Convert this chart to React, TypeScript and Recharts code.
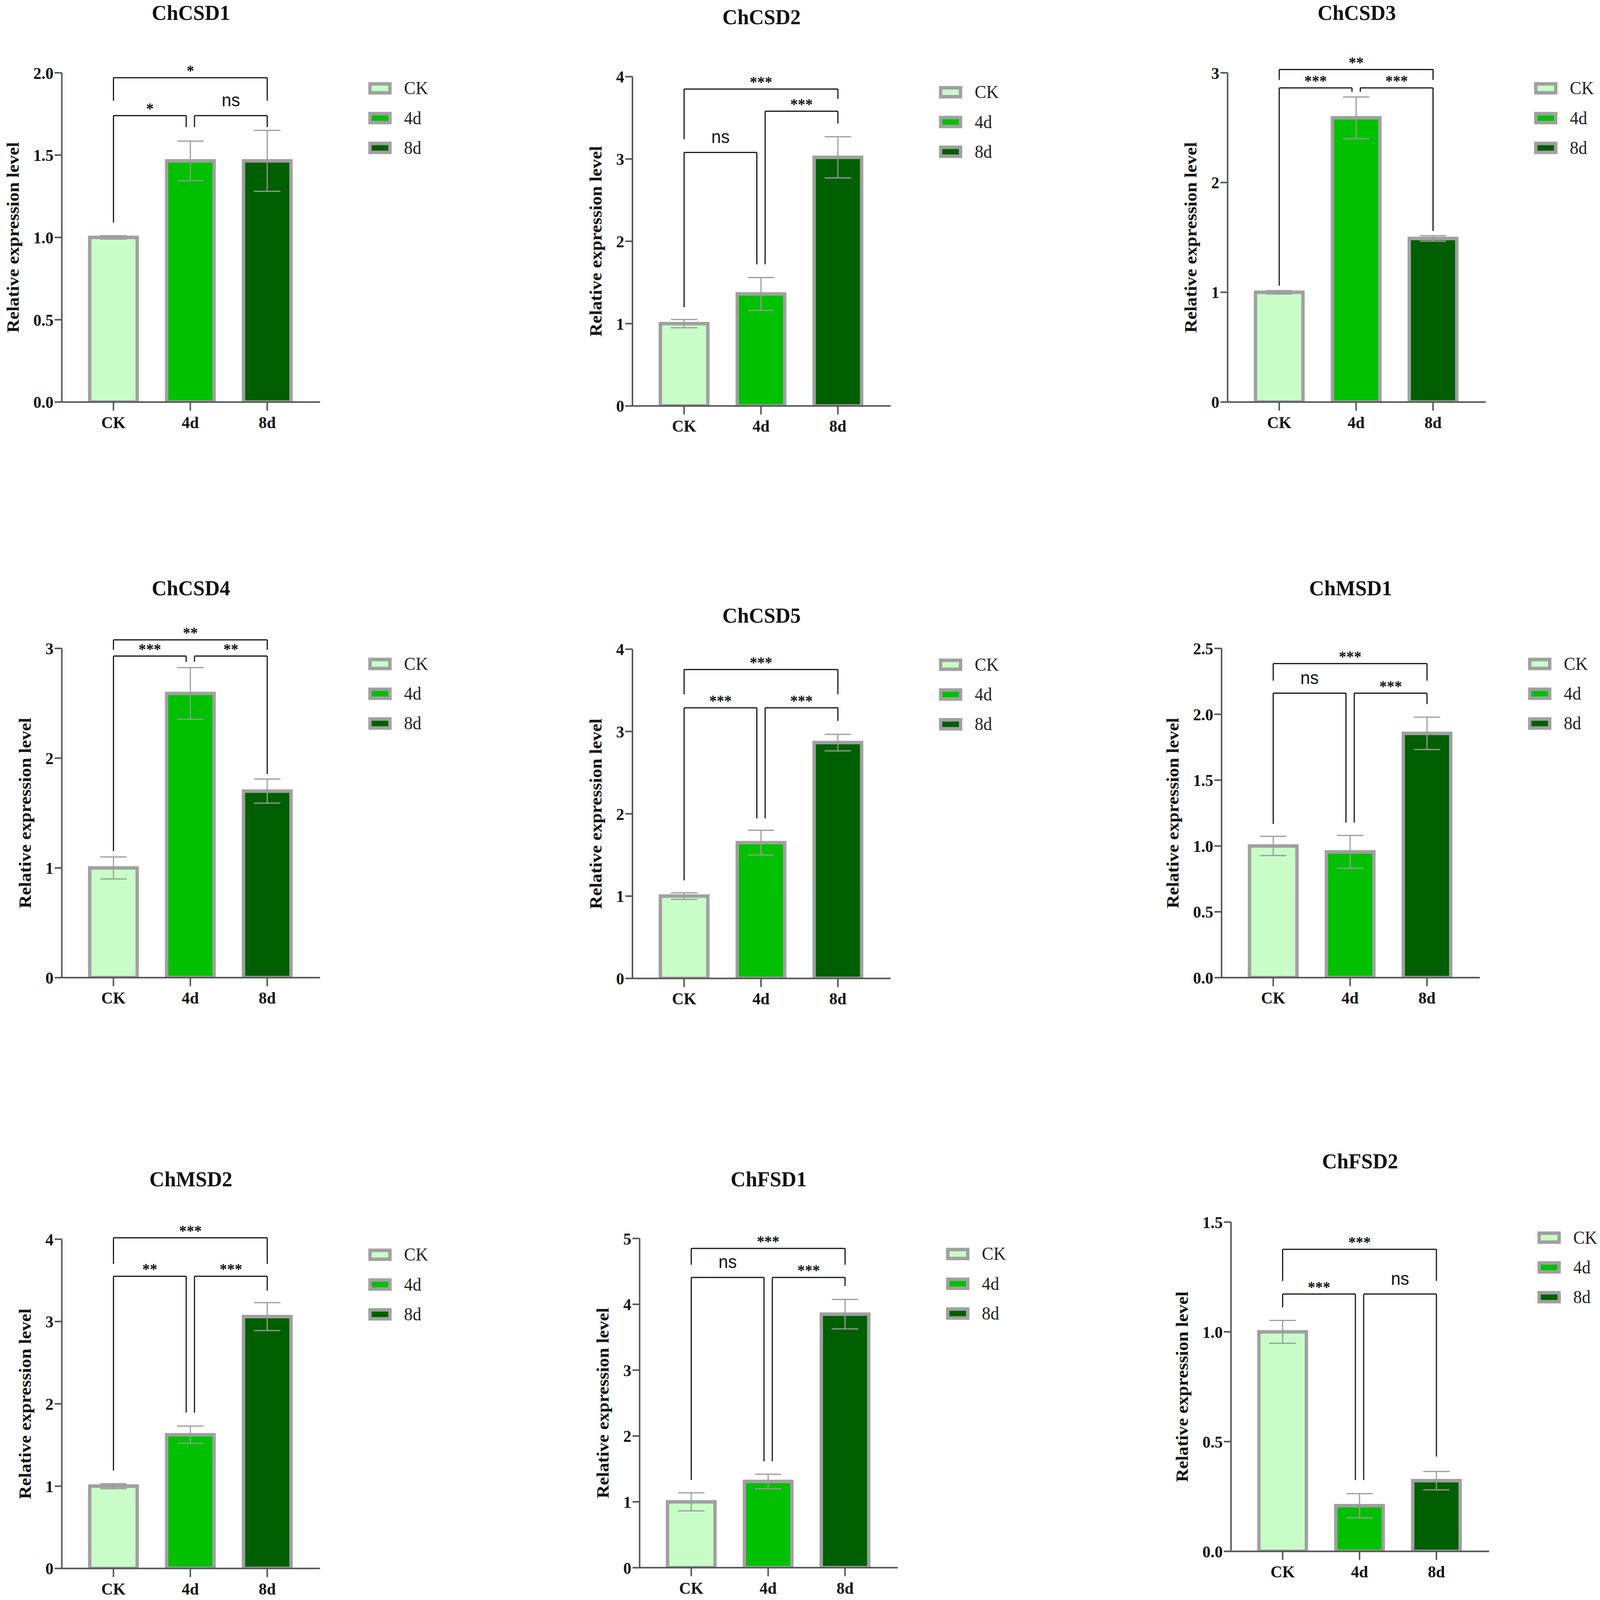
import React from 'react';
import { BarChart, Bar, Cell, XAxis, YAxis, ErrorBar, ReferenceLine, Legend } from 'recharts';

// shared categories
const groups = ['CK', '4d', '8d'];
const groupColors = ['#c8fdc8', '#00c000', '#005f00'];

// [from, to, bracket level, left leg end, right leg end, label]
type Sig = [string, string, number, number, number, string];

const csd1Mean = [1.0, 1.465, 1.465];
const csd1Err = [0.01, 0.12, 0.185];
const csd1Ticks = [0, 0.5, 1.0, 1.5, 2.0];
const csd1Sig: Sig[] = [
    ['CK', '8d', 1.97, 1.83, 1.83, '*'],
    ['CK', '4d', 1.74, 1.09, 1.67, '*'],
    ['4d', '8d', 1.74, 1.67, 1.67, 'ns'],
];

const csd2Mean = [1.0, 1.36, 3.02];
const csd2Err = [0.05, 0.2, 0.25];
const csd2Ticks = [0, 1, 2, 3, 4];
const csd2Sig: Sig[] = [
    ['CK', '8d', 3.85, 3.24, 3.73, '***'],
    ['4d', '8d', 3.58, 1.72, 3.43, '***'],
    ['CK', '4d', 3.08, 1.2, 1.72, 'ns'],
];

const csd3Mean = [1.0, 2.59, 1.49];
const csd3Err = [0.015, 0.19, 0.025];
const csd3Ticks = [0, 1, 2, 3];
const csd3Sig: Sig[] = [
    ['CK', '8d', 3.03, 2.935, 2.935, '**'],
    ['CK', '4d', 2.862, 1.06, 2.826, '***'],
    ['4d', '8d', 2.862, 2.826, 1.56, '***'],
];

const csd4Mean = [1.0, 2.59, 1.7];
const csd4Err = [0.1, 0.235, 0.11];
const csd4Ticks = [0, 1, 2, 3];
const csd4Sig: Sig[] = [
    ['CK', '8d', 3.078, 2.987, 2.987, '**'],
    ['CK', '4d', 2.93, 1.153, 2.878, '***'],
    ['4d', '8d', 2.93, 2.878, 1.855, '**'],
];

const csd5Mean = [1.0, 1.65, 2.865];
const csd5Err = [0.04, 0.15, 0.1];
const csd5Ticks = [0, 1, 2, 3, 4];
const csd5Sig: Sig[] = [
    ['CK', '8d', 3.753, 3.451, 3.451, '***'],
    ['CK', '4d', 3.288, 1.192, 1.946, '***'],
    ['4d', '8d', 3.288, 1.946, 3.128, '***'],
];

const msd1Mean = [1.0, 0.955, 1.855];
const msd1Err = [0.073, 0.125, 0.123];
const msd1Ticks = [0, 0.5, 1.0, 1.5, 2.0, 2.5];
const msd1Sig: Sig[] = [
    ['CK', '8d', 2.385, 2.255, 2.255, '***'],
    ['CK', '4d', 2.16, 1.167, 1.177, 'ns'],
    ['4d', '8d', 2.16, 1.177, 2.077, '***'],
];

const msd2Mean = [1.0, 1.625, 3.06];
const msd2Err = [0.03, 0.105, 0.17];
const msd2Ticks = [0, 1, 2, 3, 4];
const msd2Sig: Sig[] = [
    ['CK', '8d', 4.017, 3.7, 3.7, '***'],
    ['CK', '4d', 3.55, 1.19, 1.894, '**'],
    ['4d', '8d', 3.55, 1.894, 3.376, '***'],
];

const fsd1Mean = [1.0, 1.31, 3.85];
const fsd1Err = [0.137, 0.11, 0.224];
const fsd1Ticks = [0, 1, 2, 3, 4, 5];
const fsd1Sig: Sig[] = [
    ['CK', '8d', 4.848, 4.6, 4.6, '***'],
    ['CK', '4d', 4.407, 1.333, 1.615, 'ns'],
    ['4d', '8d', 4.407, 1.615, 4.277, '***'],
];

const fsd2Mean = [1.0, 0.208, 0.322];
const fsd2Err = [0.052, 0.055, 0.042];
const fsd2Ticks = [0, 0.5, 1.0, 1.5];
const fsd2Sig: Sig[] = [
    ['CK', '8d', 1.376, 1.232, 1.232, '***'],
    ['CK', '4d', 1.172, 1.112, 0.325, '***'],
    ['4d', '8d', 1.172, 0.325, 0.432, 'ns'],
];

const panels = [
    { title: 'ChCSD1', mean: csd1Mean, err: csd1Err, ticks: csd1Ticks, sig: csd1Sig },
    { title: 'ChCSD2', mean: csd2Mean, err: csd2Err, ticks: csd2Ticks, sig: csd2Sig },
    { title: 'ChCSD3', mean: csd3Mean, err: csd3Err, ticks: csd3Ticks, sig: csd3Sig },
    { title: 'ChCSD4', mean: csd4Mean, err: csd4Err, ticks: csd4Ticks, sig: csd4Sig },
    { title: 'ChCSD5', mean: csd5Mean, err: csd5Err, ticks: csd5Ticks, sig: csd5Sig },
    { title: 'ChMSD1', mean: msd1Mean, err: msd1Err, ticks: msd1Ticks, sig: msd1Sig },
    { title: 'ChMSD2', mean: msd2Mean, err: msd2Err, ticks: msd2Ticks, sig: msd2Sig },
    { title: 'ChFSD1', mean: fsd1Mean, err: fsd1Err, ticks: fsd1Ticks, sig: fsd1Sig },
    { title: 'ChFSD2', mean: fsd2Mean, err: fsd2Err, ticks: fsd2Ticks, sig: fsd2Sig },
];

// where each plot's y axis / top sits on the 4245x4111 sheet
const layout = [
    { ox: 164, oy: 187, titleGap: 154 },
    { ox: 1678, oy: 197, titleGap: 153 },
    { ox: 3257, oy: 187, titleGap: 154 },
    { ox: 164, oy: 1666, titleGap: 154 },
    { ox: 1678, oy: 1668, titleGap: 86 },
    { ox: 3241, oy: 1666, titleGap: 154 },
    { ox: 164, oy: 3184, titleGap: 154 },
    { ox: 1697, oy: 3182, titleGap: 152 },
    { ox: 3266, oy: 3140, titleGap: 156 },
];

const SHEET_W = 4245;
const SHEET_H = 4111;

const SERIF = '"Liberation Serif", "Times New Roman", serif';
const SANS = '"Liberation Sans", Arial, sans-serif';
const AXIS = '#555555';
const EDGE = '#a0a0a0';

const PLOT_W = 685;
const PLOT_H = 846;
const LEFT = 200;
const TOP = 200;
const RIGHT = 300;
const CHART_W = LEFT + PLOT_W + RIGHT;
const CHART_H = TOP + PLOT_H + 80;
const LEGEND_W = 165;

const bracketShape = (dx1: number, dx2: number, text?: string) => (p: any) => {
    const x1 = p.x1 + dx1;
    const x2 = p.x2 + dx2;
    const isNs = text === 'ns';
    return (
        <g>
            <line x1={x1} y1={p.y1} x2={x2} y2={p.y2} stroke="#111" strokeWidth={3} />
            {text ? (
                <text
                    x={(x1 + x2) / 2}
                    y={p.y1 - (isNs ? 24 : 5)}
                    textAnchor="middle"
                    fontFamily={isNs ? SANS : SERIF}
                    fontWeight={isNs ? 'normal' : 'bold'}
                    fontSize={isNs ? 46 : 40}
                    fill="#111"
                >
                    {text}
                </text>
            ) : null}
        </g>
    );
};

const yLabel = (gap: number) => (props: any) => {
    const vb = props.viewBox;
    const cx = vb.x + vb.width - gap;
    const cy = vb.y + vb.height / 2;
    return (
        <text
            x={cx}
            y={cy}
            transform={`rotate(-90 ${cx} ${cy})`}
            textAnchor="middle"
            dominantBaseline="central"
            fontFamily={SERIF}
            fontWeight="bold"
            fontSize={47}
            fill="#111"
        >
            Relative expression level
        </text>
    );
};

const renderLegend = () => (
    <svg width={LEGEND_W} height={240} style={{ display: 'block' }}>
        {groups.map((g, i) => (
            <g key={g} transform={`translate(0, ${30 + i * 76.5})`}>
                <rect x={4.5} y={-11.5} width={53} height={23} fill={groupColors[i]} stroke={EDGE} strokeWidth={9} />
                <text x={95} y={0} dominantBaseline="central" fontFamily={SERIF} fontSize={46} fill="#222">
                    {g}
                </text>
            </g>
        ))}
    </svg>
);

const Panel = ({ idx }: { idx: number }) => {
    const p = panels[idx];
    const pos = layout[idx];
    const data = groups.map((g, i) => ({ name: g, mean: p.mean[i], err: p.err[i] }));
    const decimals = p.ticks.some(t => !Number.isInteger(t)) ? 1 : 0;
    const top = p.ticks[p.ticks.length - 1];
    const tickStyle = { fontSize: 43, fontFamily: SERIF, fontWeight: 'bold', fill: '#111' };

    return (
        <>
            <div
                style={{
                    position: 'absolute',
                    left: pos.ox + PLOT_W / 2 - 400,
                    top: pos.oy - pos.titleGap - 30,
                    width: 800,
                    lineHeight: '60px',
                    textAlign: 'center',
                    fontFamily: SERIF,
                    fontWeight: 'bold',
                    fontSize: 55,
                    color: '#111',
                }}
            >
                {p.title}
            </div>
            <div style={{ position: 'absolute', left: pos.ox - LEFT, top: pos.oy - TOP }}>
                <BarChart
                    width={CHART_W}
                    height={CHART_H}
                    data={data}
                    margin={{ top: TOP, right: RIGHT, left: 50, bottom: 0 }}
                >
                    <XAxis
                        dataKey="name"
                        padding={{ left: 35, right: 38 }}
                        interval={0}
                        height={80}
                        tickSize={22}
                        tickMargin={14}
                        axisLine={{ stroke: AXIS, strokeWidth: 4 }}
                        tickLine={{ stroke: AXIS, strokeWidth: 4 }}
                        tick={tickStyle}
                    />
                    <YAxis
                        type="number"
                        domain={[0, top]}
                        ticks={p.ticks}
                        allowDataOverflow
                        interval={0}
                        width={150}
                        tickSize={19}
                        tickMargin={3}
                        axisLine={{ stroke: AXIS, strokeWidth: 4 }}
                        tickLine={{ stroke: AXIS, strokeWidth: 4 }}
                        tick={tickStyle}
                        tickFormatter={(v: number) => v.toFixed(decimals)}
                        label={yLabel(decimals ? 130 : 98)}
                    />
                    <Legend
                        layout="vertical"
                        align="center"
                        verticalAlign="middle"
                        content={renderLegend}
                        wrapperStyle={{ left: LEFT + 813, top: TOP + 10, width: LEGEND_W, height: 240 }}
                    />
                    <Bar dataKey="mean" barSize={126} stroke={EDGE} strokeWidth={9} isAnimationActive={false}>
                        {data.map((d, i) => (
                            <Cell key={d.name} fill={groupColors[i]} />
                        ))}
                        <ErrorBar dataKey="err" width={35} stroke="#9a9a9a" strokeWidth={3} isAnimationActive={false} />
                    </Bar>
                    {p.sig.map(([from, to, level, leftEnd, rightEnd, text], k) => {
                        const a = groups.indexOf(from);
                        const b = groups.indexOf(to);
                        const dxA = a === 1 ? 11 : 0;
                        const dxB = b === 1 ? -11 : 0;
                        return (
                            <React.Fragment key={k}>
                                <ReferenceLine
                                    ifOverflow="visible"
                                    segment={[{ x: from, y: level }, { x: to, y: level }]}
                                    shape={bracketShape(dxA, dxB, text)}
                                />
                                <ReferenceLine
                                    ifOverflow="visible"
                                    segment={[{ x: from, y: level }, { x: from, y: leftEnd }]}
                                    shape={bracketShape(dxA, dxA)}
                                />
                                <ReferenceLine
                                    ifOverflow="visible"
                                    segment={[{ x: to, y: level }, { x: to, y: rightEnd }]}
                                    shape={bracketShape(dxB, dxB)}
                                />
                            </React.Fragment>
                        );
                    })}
                </BarChart>
            </div>
        </>
    );
};

const App = () => {
    // the window may be smaller than the sheet, so fit the whole sheet into it
    const vw = window.innerWidth || SHEET_W;
    const vh = window.innerHeight || SHEET_H;
    const sx = Math.min(1, vw / SHEET_W);
    const sy = Math.min(1, vh / SHEET_H);

    return (
        <div style={{ position: 'absolute', left: 0, top: 0, width: vw, height: vh, overflow: 'hidden', background: '#ffffff' }}>
            <div
                style={{
                    position: 'absolute',
                    left: 0,
                    top: 0,
                    width: SHEET_W,
                    height: SHEET_H,
                    overflow: 'hidden',
                    background: '#ffffff',
                    transform: `scale(${sx}, ${sy})`,
                    transformOrigin: '0 0',
                }}
            >
                {panels.map((_, i) => (
                    <Panel key={i} idx={i} />
                ))}
            </div>
        </div>
    );
};

export default App;
